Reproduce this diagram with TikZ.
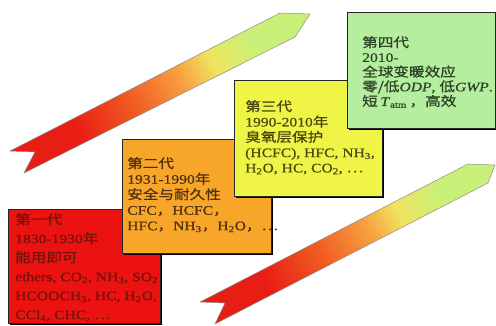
\documentclass[tikz,border=0pt]{standalone}
\usepackage{fontspec}
\setmainfont{Liberation Serif}[FakeBold=0.5]
\newfontfamily\cjk{Noto Sans CJK SC}[FakeBold=0.6]
\usetikzlibrary{shadows}
\definecolor{rA}{HTML}{E81E14}
\definecolor{rB}{HTML}{F05A22}
\definecolor{rC}{HTML}{F8A040}
\definecolor{rD}{HTML}{F0E460}
\definecolor{rE}{HTML}{C8F078}
\definecolor{boxred}{HTML}{EC1212}
\definecolor{boxorange}{HTML}{F8A62A}
\definecolor{boxyellow}{HTML}{F0F446}
\definecolor{boxgreen}{HTML}{B4EE9E}
\definecolor{tred}{HTML}{70140A}
\definecolor{torange}{HTML}{50300C}
\definecolor{tyellow}{HTML}{46480C}
\definecolor{tgreen}{HTML}{2E4026}
\pgfdeclarehorizontalshading{ribbonshade}{100bp}{color(0bp)=(rA); color(32bp)=(rA); color(44bp)=(rB); color(55bp)=(rC); color(62bp)=(rD); color(71bp)=(rE); color(100bp)=(rE)}
\tikzset{
  genbox/.style={draw=black!85, line width=0.8pt, anchor=north west, inner sep=0pt,
    drop shadow={shadow xshift=2pt, shadow yshift=-2pt, fill=black, opacity=1}},
  gentext/.style={anchor=north west, inner sep=0pt, align=left, xscale=1.2,
    font=\fontsize{13}{#1}\selectfont},
  ribbon/.style={shading=ribbonshade, shading angle=27, draw=black!45, line width=0.5pt}
}
\begin{document}
\begin{tikzpicture}[x=1pt,y=-1pt]
\useasboundingbox (0,0) rectangle (496,326);
% ribbons
\coordinate (a1) at (10,151);
\coordinate (a2) at (280,13);
\coordinate (a3) at (310,14);
\coordinate (a4) at (295,37);
\coordinate (a5) at (24,173);
\coordinate (a6) at (35,152);
\path[ribbon] (a1) -- (a2) -- (a3) -- (a4) -- (a5) -- (a6) -- cycle;
\coordinate (b1) at (200,302);
\coordinate (b2) at (468,164);
\coordinate (b3) at (495,165);
\coordinate (b4) at (488,183);
\coordinate (b5) at (215,324);
\coordinate (b6) at (225,303);
\path[ribbon] (b1) -- (b2) -- (b3) -- (b4) -- (b5) -- (b6) -- cycle;
% boxes
\node[genbox, fill=boxred, minimum width=152pt, minimum height=114pt] (g1) at (8,209) {};
\node[gentext=19pt, text=tred] (t1) at ([shift={(7,4)}]g1.north west) {%
{\cjk 第一代}\\
1830-1930{\cjk 年}\\
{\cjk 能用即可}\\
ethers, CO\textsubscript{2}, NH\textsubscript{3}, SO\textsubscript{2}\\
HCOOCH\textsubscript{3}, HC, H\textsubscript{2}O,\\
CCl\textsubscript{4}, CHC, {\cjk …}};
\node[genbox, fill=boxorange, minimum width=149pt, minimum height=114pt] (g2) at (122,139) {};
\node[gentext=15.5pt, text=torange] (t2) at ([shift={(5,18)}]g2.north west) {%
{\cjk 第二代}\\
1931-1990{\cjk 年}\\
{\cjk 安全与耐久性}\\
CFC{\cjk ，}HCFC{\cjk ，}\\
HFC{\cjk ，}NH\textsubscript{3}{\cjk ，}H\textsubscript{2}O{\cjk ，…}};
\node[genbox, fill=boxyellow, minimum width=148pt, minimum height=116pt] (g3) at (234,80) {};
\node[gentext=15.3pt, text=tyellow] (t3) at ([shift={(11,20)}]g3.north west) {%
{\cjk 第三代}\\
1990-2010{\cjk 年}\\
{\cjk 臭氧层保护}\\
(HCFC), HFC, NH\textsubscript{3},\\
H\textsubscript{2}O, HC, CO\textsubscript{2}, {\cjk …}};
\node[genbox, fill=boxgreen, minimum width=148pt, minimum height=116pt] (g4) at (347,12) {};
\node[gentext=14.7pt, text=tgreen] (t4) at ([shift={(15,24)}]g4.north west) {%
{\cjk 第四代}\\
2010-\\
{\cjk 全球变暖效应}\\
{\cjk 零/低}\textit{ODP}, {\cjk 低}\textit{GWP}.\\
{\cjk 短}\,\textit{T}\textsubscript{atm}\,{\cjk ，高效}};
\end{tikzpicture}
\end{document}
